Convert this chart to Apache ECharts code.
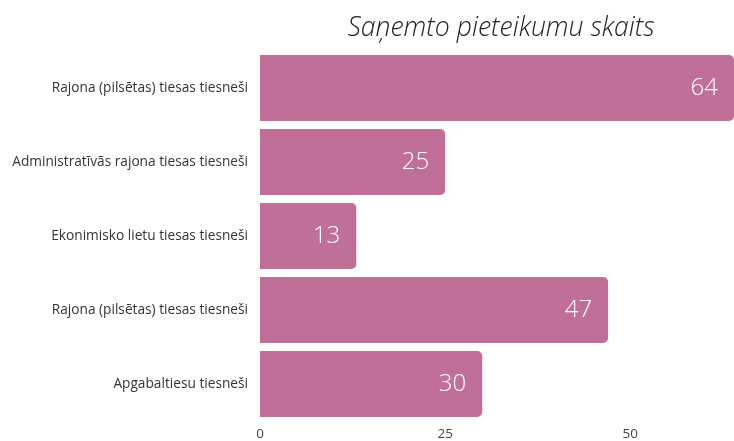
<!DOCTYPE html>
<html>
<head>
<meta charset="utf-8">
<script src="https://cdn.jsdelivr.net/npm/echarts@6/dist/echarts.min.js"></script>
<style>
  html, body { margin: 0; padding: 0; background: #fff; }
  #chart { width: 734px; height: 441px; }
</style>
</head>
<body>
<div id="chart"></div>
<script>
// categories top to bottom
const categories = [
  "Rajona (pilsētas) tiesas tiesneši",
  "Administratīvās rajona tiesas tiesneši",
  "Ekonimisko lietu tiesas tiesneši",
  "Rajona (pilsētas) tiesas tiesneši",
  "Apgabaltiesu tiesneši"
];
const values = [64, 25, 13, 47, 30];
const xTicks = [0, 25, 50];

var myChart = echarts.init(document.getElementById("chart"));

var option = {
  textStyle: { fontFamily: "Open Sans" },
  title: {
    text: "Saņemto pieteikumu skaits",
    left: 496,
    textAlign: "center",
    top: 10,
    textStyle: {
      fontFamily: "Open Sans",
      fontStyle: "italic",
      fontWeight: 300,
      fontSize: 26.6,
      color: "#222"
    }
  },
  grid: {
    left: 260,
    right: 0,
    top: 51,
    bottom: 19
  },
  xAxis: {
    type: "value",
    min: 0,
    max: 64,
    interval: 25,
    axisLine: { show: false },
    axisTick: { show: false },
    splitLine: { show: false },
    axisLabel: {
      fontFamily: "Open Sans",
      fontSize: 13.5,
      color: "#444",
      margin: 6,
      showMaxLabel: false,
      formatter: function (v) {
        return xTicks.indexOf(v) >= 0 ? String(v) : "";
      }
    }
  },
  yAxis: {
    type: "category",
    inverse: true,
    data: categories,
    axisLine: { show: false },
    axisTick: { show: false },
    axisLabel: {
      fontFamily: "Open Sans",
      fontSize: 13.7,
      color: "#333",
      margin: 12
    }
  },
  series: [
    {
      type: "bar",
      data: values,
      barCategoryGap: "11%",
      itemStyle: {
        color: "#c07098",
        borderRadius: [0, 5, 5, 0]
      },
      label: {
        show: true,
        position: "insideRight",
        distance: 16,
        color: "#fff",
        fontFamily: "Open Sans",
        fontSize: 24,
        fontWeight: 300
      }
    }
  ]
};

myChart.setOption(option);
</script>
</body>
</html>
